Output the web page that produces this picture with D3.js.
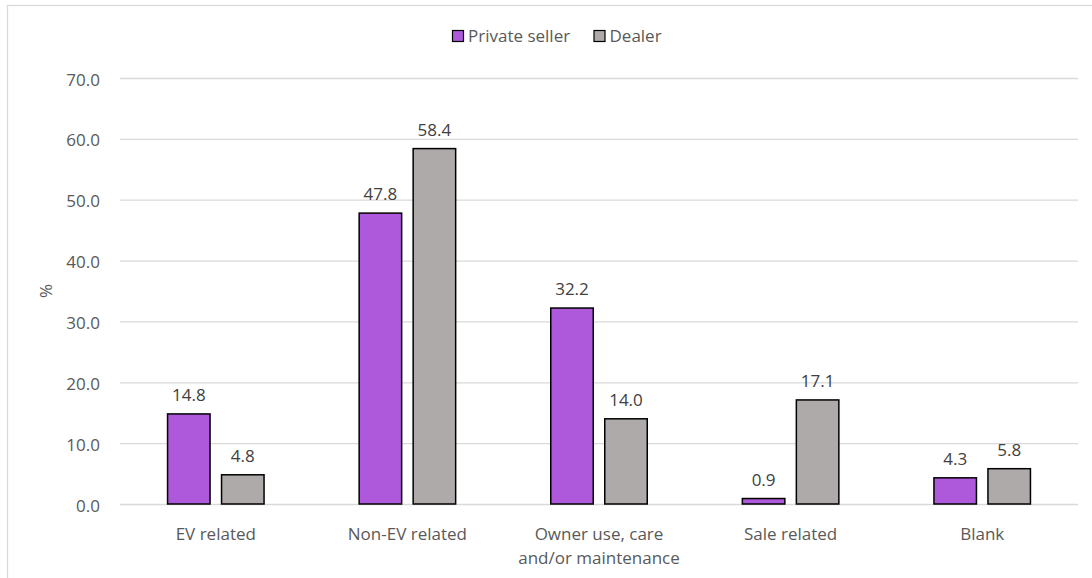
<!DOCTYPE html>
<html>
<head>
<meta charset="utf-8">
<script src="https://cdn.jsdelivr.net/npm/d3@7"></script>
<style>
  html, body { margin: 0; padding: 0; background: #fff; }
  svg { display: block; font-family: "Open Sans", sans-serif; }
</style>
</head>
<body>
<svg id="chart" width="1092" height="578"></svg>
<script>
// Reason categories and the share (%) of answers per seller type
const categories = ["EV related", "Non-EV related", "Owner use, care and/or maintenance", "Sale related", "Blank"];
const seriesNames = ["Private seller", "Dealer"];
const privateSeller = [14.8, 47.8, 32.2, 0.9, 4.3];
const dealer = [4.8, 58.4, 14.0, 17.1, 5.8];
const yTicks = [0, 10, 20, 30, 40, 50, 60, 70];
const colors = ["#AE59DB", "#AEAAAA"];

const svg = d3.select("#chart");
const textColor = "#595959";
const gridColor = "#D9D9D9";

// chart area frame
svg.append("rect")
  .attr("x", 7.5).attr("y", 5.5)
  .attr("width", 1200).attr("height", 700)
  .attr("fill", "none").attr("stroke", gridColor).attr("stroke-width", 1.3);

const plot = { left: 120, right: 1078, top: 78, bottom: 504 };

const x = d3.scaleBand().domain(categories).range([plot.left, plot.right]).padding(0);
const groupW = 98;
const xs = d3.scaleBand().domain(seriesNames)
  .range([(x.bandwidth() - groupW) / 2, (x.bandwidth() + groupW) / 2])
  .paddingInner(10 / 54).paddingOuter(0);
const y = d3.scaleLinear().domain([0, 70]).range([plot.bottom, plot.top]);

// gridlines + tick labels
const yAxis = d3.axisLeft(y).tickValues(yTicks)
  .tickSize(-(plot.right - plot.left)).tickPadding(20)
  .tickFormat(d3.format(".1f"));
const gy = svg.append("g").attr("transform", `translate(${plot.left},0)`).call(yAxis);
gy.select(".domain").remove();
gy.selectAll(".tick line").attr("stroke", gridColor).attr("stroke-width", 1.3);
gy.selectAll(".tick text")
  .attr("fill", textColor).attr("font-size", 17)
  .attr("font-family", "'Open Sans', sans-serif")
  .attr("dy", "0.42em");

// y axis title
svg.append("text")
  .attr("transform", `translate(52,${(plot.top + plot.bottom) / 2}) rotate(-90)`)
  .attr("text-anchor", "middle")
  .attr("fill", textColor).attr("font-size", 17)
  .text("%");

// bars
const rows = categories.map((c, i) => ({ cat: c, values: [privateSeller[i], dealer[i]] }));
const groups = svg.append("g").selectAll("g").data(rows).join("g")
  .attr("transform", d => `translate(${x(d.cat)},0)`);

const bars = groups.selectAll("g.bar")
  .data(d => d.values.map((v, j) => ({ name: seriesNames[j], v, j })))
  .join("g").attr("class", "bar");

bars.append("rect")
  .attr("x", d => xs(d.name) + 0.75)
  .attr("y", d => y(d.v))
  .attr("width", xs.bandwidth() - 1.5)
  .attr("height", d => y(0) - y(d.v))
  .attr("fill", d => colors[d.j])
  .attr("stroke", "#000").attr("stroke-width", 1.5);

bars.append("text")
  .attr("x", d => xs(d.name) + xs.bandwidth() / 2)
  .attr("y", d => y(d.v) - 13)
  .attr("text-anchor", "middle")
  .attr("fill", "#404040").attr("font-size", 17)
  .text(d => d3.format(".1f")(d.v));

// category labels, wrapped to the band width
function wrap(textSel, width) {
  textSel.each(function () {
    const t = d3.select(this);
    const words = t.text().split(/\s+/);
    const cx = t.attr("x");
    t.text(null);
    let line = [];
    let ts = t.append("tspan").attr("x", cx).attr("dy", 0);
    let n = 0;
    for (const w of words) {
      line.push(w);
      ts.text(line.join(" "));
      if (ts.node().getComputedTextLength() > width && line.length > 1) {
        line.pop();
        ts.text(line.join(" "));
        line = [w];
        n++;
        ts = t.append("tspan").attr("x", cx).attr("dy", 24).text(w);
      }
    }
  });
}

svg.append("g").selectAll("text").data(categories).join("text")
  .attr("x", d => x(d) + x.bandwidth() / 2)
  .attr("y", 540)
  .attr("text-anchor", "middle")
  .attr("fill", textColor).attr("font-size", 17)
  .text(d => d)
  .call(wrap, 175);

// legend
const legendItems = [
  { name: seriesNames[0], color: colors[0], x: 452 },
  { name: seriesNames[1], color: colors[1], x: 593.5 }
];
const lg = svg.append("g").selectAll("g").data(legendItems).join("g")
  .attr("transform", d => `translate(${d.x},30)`);
lg.append("rect")
  .attr("x", 0.5).attr("y", 0.5).attr("width", 11).attr("height", 11)
  .attr("fill", d => d.color).attr("stroke", "#000").attr("stroke-width", 1.2);
lg.append("text")
  .attr("x", 16).attr("y", 11.5)
  .attr("fill", textColor).attr("font-size", 17)
  .text(d => d.name);
</script>
</body>
</html>
